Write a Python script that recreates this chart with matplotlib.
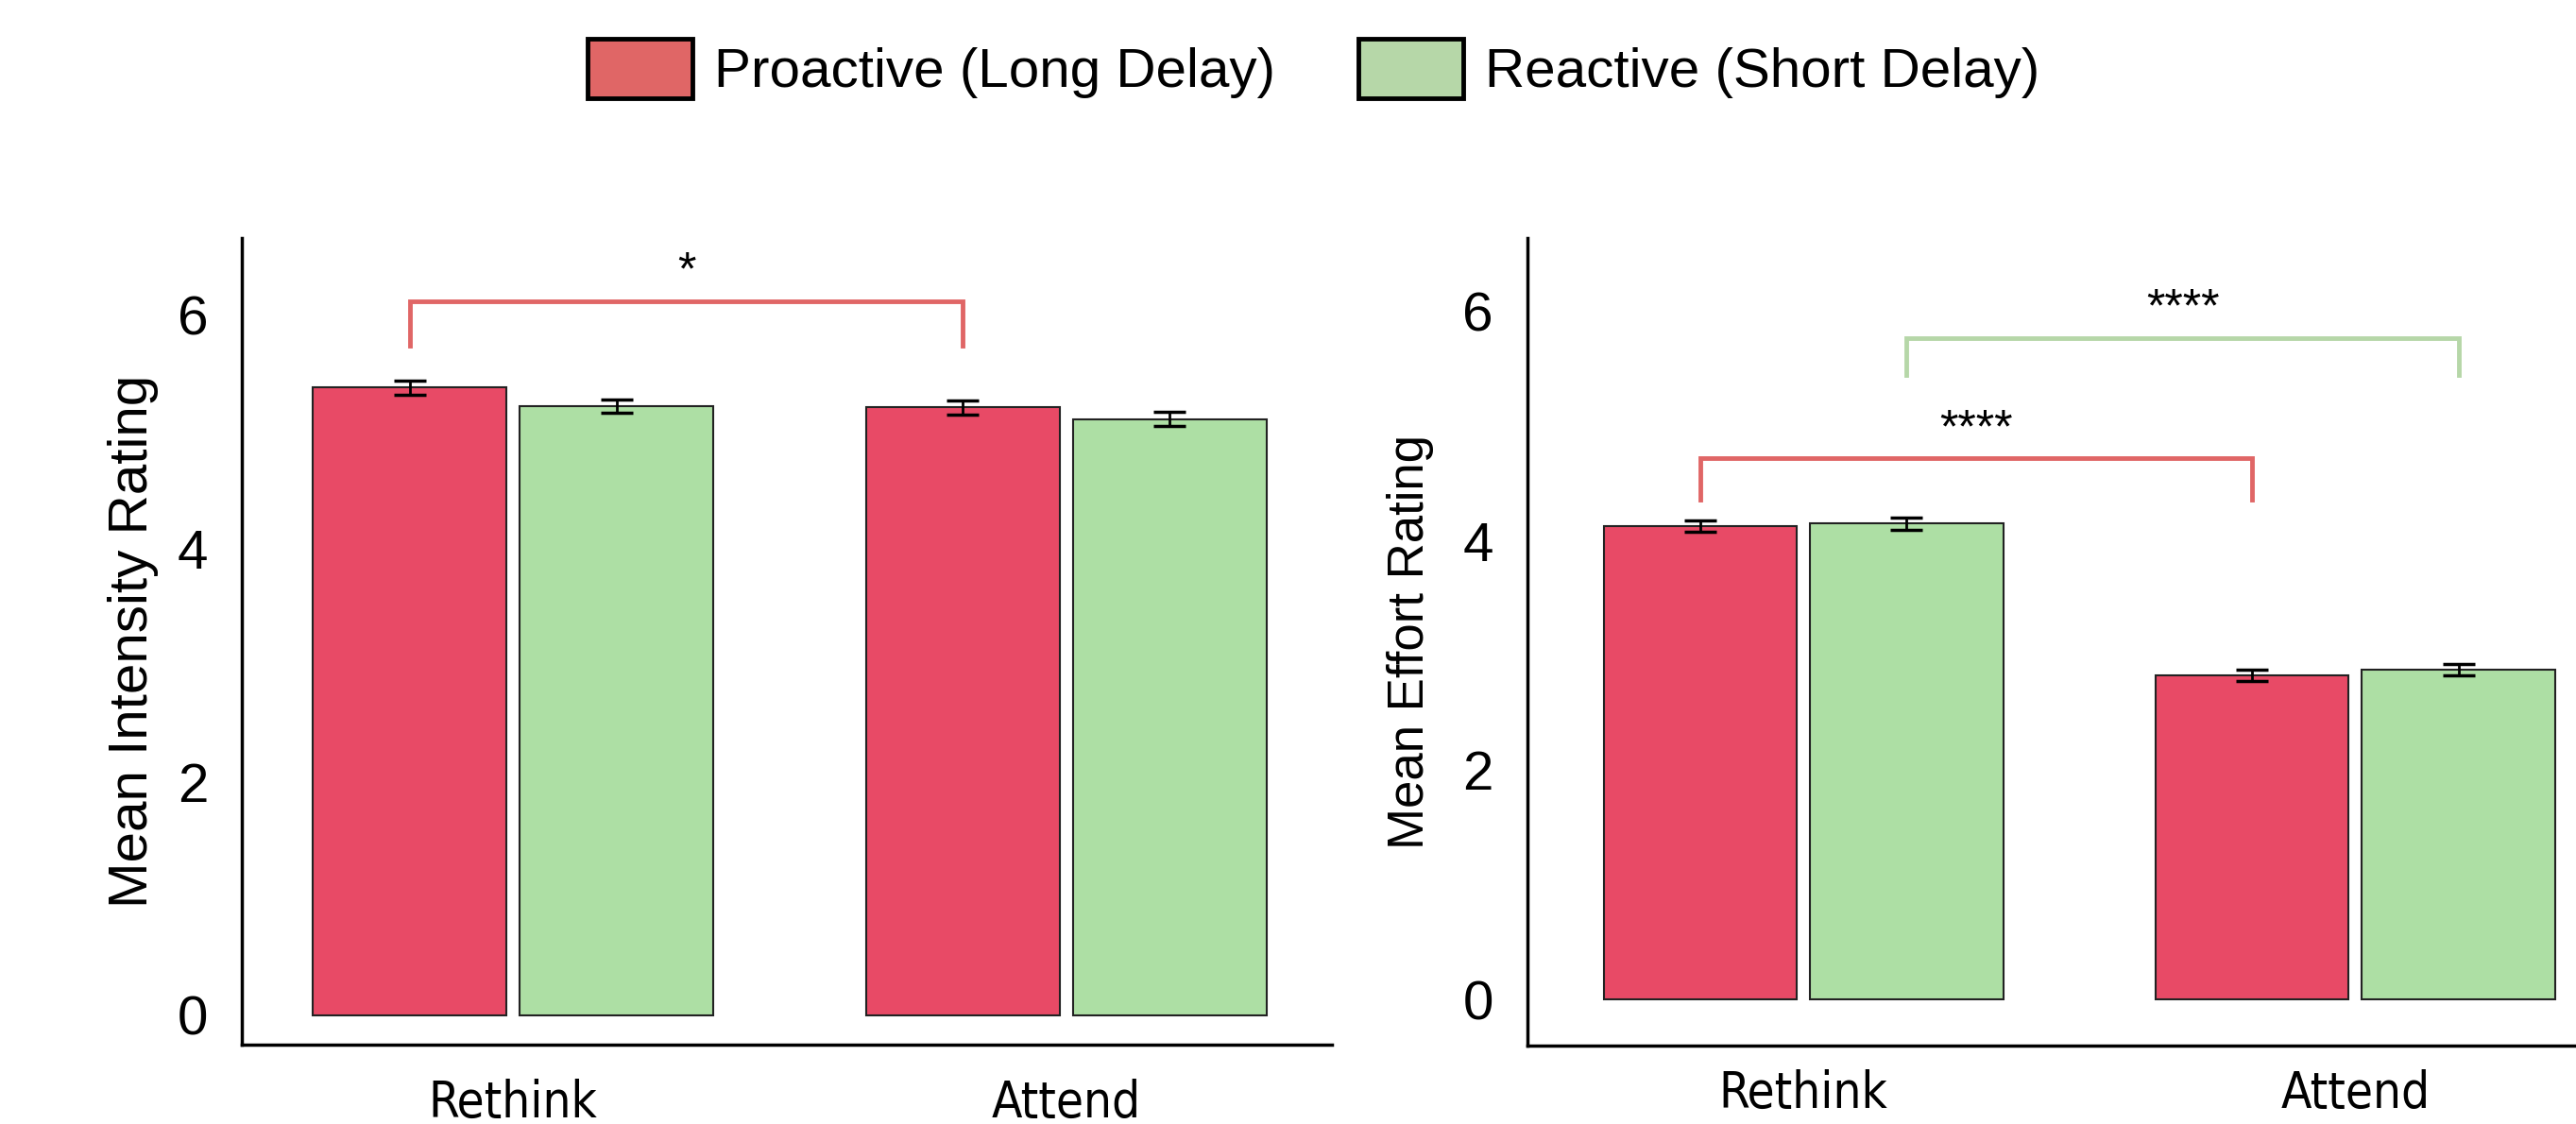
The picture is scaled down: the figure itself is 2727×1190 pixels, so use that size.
import matplotlib.pyplot as plt
from matplotlib.patches import Patch
import numpy as np

# datos
conditions = ["Rethink", "Attend"]
series = ["Proactive (Long Delay)", "Reactive (Short Delay)"]
intensity_pro = [5.38, 5.21]
intensity_rea = [5.22, 5.11]
intensity_pro_err = [0.06, 0.06]
intensity_rea_err = [0.06, 0.06]
effort_pro = [4.13, 2.83]
effort_rea = [4.15, 2.88]
effort_pro_err = [0.05, 0.05]
effort_rea_err = [0.05, 0.05]

red_bar = "#E84A66"
green_bar = "#ADDFA4"
red_line = "#E06666"
green_line = "#B6D7A8"

plt.rcParams['font.family'] = ['Liberation Sans', 'DejaVu Sans']

fig = plt.figure(figsize=(27.27, 11.9), dpi=100)
ax1 = fig.add_axes([0.094, 0.071, 0.423, 0.717])
ax2 = fig.add_axes([0.593, 0.070, 0.407, 0.718])

w = 0.35
gap = 0.024
x = np.arange(len(conditions))


def draw_panel(ax, pro, rea, pro_err, rea_err, ylabel, ylsize, ylpad, xpad, xlim, ylim):
    xp = x - (w + gap) / 2
    xr = x + (w + gap) / 2
    ax.bar(xp, pro, w, color=red_bar, edgecolor="#222222", linewidth=1.5,
           yerr=pro_err, capsize=12, error_kw=dict(elinewidth=2, capthick=2.5, ecolor="black"))
    ax.bar(xr, rea, w, color=green_bar, edgecolor="#222222", linewidth=1.5,
           yerr=rea_err, capsize=12, error_kw=dict(elinewidth=2, capthick=2.5, ecolor="black"))
    ax.set_xlim(*xlim)
    ax.set_ylim(*ylim)
    ax.set_yticks([0, 2, 4, 6])
    ax.set_xticks(x)
    ax.set_xticklabels(conditions, fontsize=38, family=['DejaVu Sans'], stretch='condensed')
    ax.tick_params(axis='y', length=0, labelsize=42, pad=26)
    ax.tick_params(axis='x', length=0, pad=xpad)
    ax.set_ylabel(ylabel, fontsize=ylsize, labelpad=ylpad)
    for s in ["top", "right"]:
        ax.spines[s].set_visible(False)
    for s in ["left", "bottom"]:
        ax.spines[s].set_linewidth(2.5)
    return xp, xr


def bracket(ax, x0, x1, y, leg, color, label):
    ax.plot([x0, x0, x1, x1], [y - leg, y, y, y - leg], color=color, lw=3.5,
            solid_joinstyle='miter')
    ax.text((x0 + x1) / 2, y + 0.06, label, ha='center', va='bottom', fontsize=36)


xp, xr = draw_panel(ax1, intensity_pro, intensity_rea, intensity_pro_err, intensity_rea_err,
                    "Mean Intensity Rating", 42, 14, 26, (-0.49, 1.48), (-0.25, 6.66))
bracket(ax1, xp[0], xp[1], 6.12, 0.38, red_line, "*")

xp, xr = draw_panel(ax2, effort_pro, effort_rea, effort_pro_err, effort_rea_err,
                    "Mean Effort Rating", 38, 22, 18, (-0.50, 1.40), (-0.40, 6.64))
bracket(ax2, xp[0], xp[1], 4.72, 0.36, red_line, "****")
bracket(ax2, xr[0], xr[1], 5.77, 0.32, green_line, "****")

handles = [Patch(facecolor=red_line, edgecolor="black", linewidth=3.5),
           Patch(facecolor=green_line, edgecolor="black", linewidth=3.5)]
fig.legend(handles, series, loc='center', bbox_to_anchor=(0.51, 0.939), ncol=2,
           frameon=False, fontsize=42, handlelength=1.9, handleheight=1.3,
           handletextpad=0.4, columnspacing=1.5)

fig.savefig("out.png", dpi=100)
